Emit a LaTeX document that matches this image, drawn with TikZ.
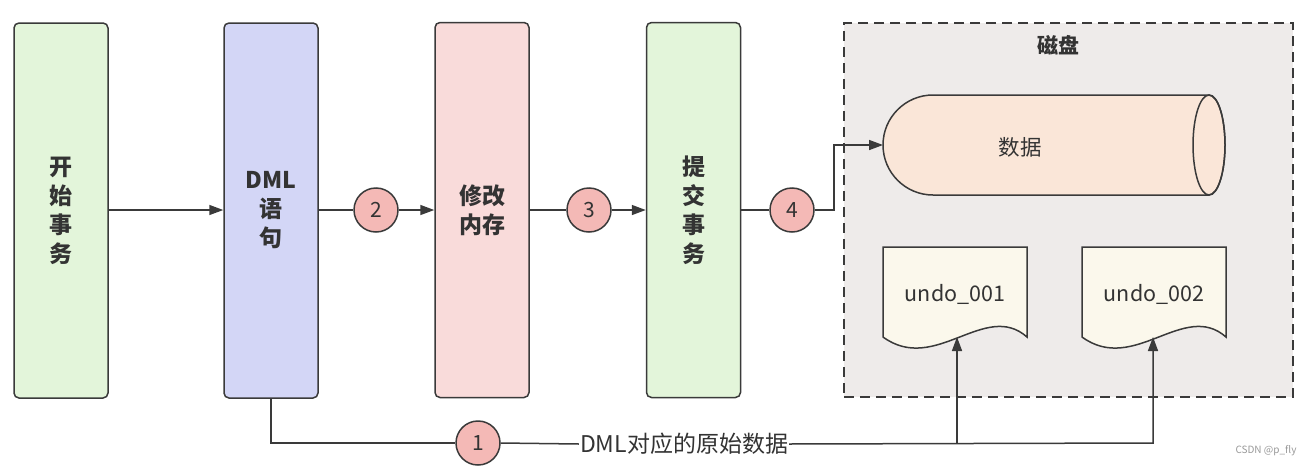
\documentclass[tikz,border=0pt]{standalone}
\usepackage{fontspec}
\setmainfont{Noto Sans CJK SC}
\usetikzlibrary{arrows.meta}
\definecolor{strokec}{HTML}{3A3A3A}
\definecolor{textc}{HTML}{333333}
\definecolor{greenf}{HTML}{E3F5DA}
\definecolor{bluef}{HTML}{D3D6F6}
\definecolor{pinkf}{HTML}{F9DBDA}
\definecolor{diskf}{HTML}{EEEBEA}
\definecolor{cylf}{HTML}{FAE6D8}
\definecolor{docf}{HTML}{FBF8EC}
\definecolor{circf}{HTML}{F4B9B6}
\tikzset{
  stepbox/.style={draw=strokec, line width=1.5pt, rounded corners=5pt, minimum width=94pt, minimum height=375pt, inner sep=0pt, align=center, text=textc, font=\fontsize{23}{29}\selectfont\bfseries},
  numc/.style={circle, draw=strokec, fill=circf, line width=1.5pt, minimum size=44pt, inner sep=0pt, text=textc, font=\fontsize{21}{24}\selectfont},
  conn/.style={draw=strokec, line width=1.5pt},
  arr/.style={conn, -{Triangle[length=14pt,width=10pt]}},
  plaintext/.style={text=textc, inner sep=0pt, font=\fontsize{21.5}{24}\selectfont},
}
\begin{document}
\begin{tikzpicture}[x=1pt,y=-1pt]
\useasboundingbox (0,0) rectangle (1314,466);
\fill[white] (0,0) rectangle (1314,466);

% disk container
\node[draw=strokec, fill=diskf, line width=1.5pt, dash pattern=on 10pt off 6pt, minimum width=449pt, minimum height=374pt, inner sep=0pt] (disk) at (1068.5,210) {};
\node[plaintext, font=\fontsize{21}{24}\selectfont\bfseries] (disklbl) at (1058,45) {磁盘};

% step boxes
\node[stepbox, fill=greenf] (start) at (61,210.5) {开\\始\\事\\务};
\node[stepbox, fill=bluef] (dml) at (271,210.5) {DML\\语\\句};
\node[stepbox, fill=pinkf] (mem) at (482,210) {修改\\内存};
\node[stepbox, fill=greenf] (commit) at (693.5,210) {提\\交\\事\\务};

% cylinder
\filldraw[draw=strokec, fill=cylf, line width=1.5pt]
  (933,95) -- (1209,95) arc[start angle=90, end angle=-90, x radius=16pt, y radius=50pt]
  -- (933,195) arc[start angle=270, end angle=90, radius=50pt] -- cycle;
\draw[draw=strokec, line width=1.5pt] (1209,145) ellipse[x radius=16pt, y radius=50pt];
\node[plaintext] (data) at (1020,147) {数据};
\coordinate (datain) at (883,145);

% documents
\filldraw[draw=strokec, fill=docf, line width=1.5pt]
  (883,337) -- (883,247) -- (1027,247) -- (1027,337)
  .. controls (985,300) and (935,375) .. (883,337) -- cycle;
\node[plaintext] (undo1) at (955,294) {undo\_001};
\coordinate (undo1in) at (957,337);
\filldraw[draw=strokec, fill=docf, line width=1.5pt]
  (1082,337) -- (1082,247) -- (1226,247) -- (1226,337)
  .. controls (1184,300) and (1134,375) .. (1082,337) -- cycle;
\node[plaintext] (undo2) at (1154,294) {undo\_002};
\coordinate (undo2in) at (1153,337);

% numbered circles
\node[numc] (c2) at (376,210) {2};
\node[numc] (c3) at (589,210) {3};
\node[numc] (c4) at (792,210) {4};
\node[numc] (c1) at (478,443) {1};

% connectors
\draw[arr] (start.east |- 0,210) -- (dml.west |- 0,210);
\draw[conn] (dml.east |- c2) -- (c2.west);
\draw[arr] (c2.east) -- (mem.west |- c2);
\draw[conn] (mem.east |- c3) -- (c3.west);
\draw[arr] (c3.east) -- (commit.west |- c3);
\draw[conn] (commit.east |- c4) -- (c4.west);
\draw[arr] (c4.east) -- (834,210) -- (834,145) -- (datain);

% bottom path
\node[plaintext, font=\fontsize{23}{26}\selectfont, fill=white, inner sep=1pt] (orig) at (684,444) {DML对应的原始数据};
\draw[conn] (dml.south) -- (271,443) -- (c1.west);
\draw[conn] (c1.east) -- (orig.west);
\draw[arr] (orig.east) -- (1153,443) -- (undo2in);
\draw[arr] (957,443) -- (undo1in);

% watermark
\node[text=gray!80, inner sep=0pt, font=\fontsize{10}{12}\selectfont] (wm) at (1266,451) {CSDN @p\_fly};
\end{tikzpicture}
\end{document}
